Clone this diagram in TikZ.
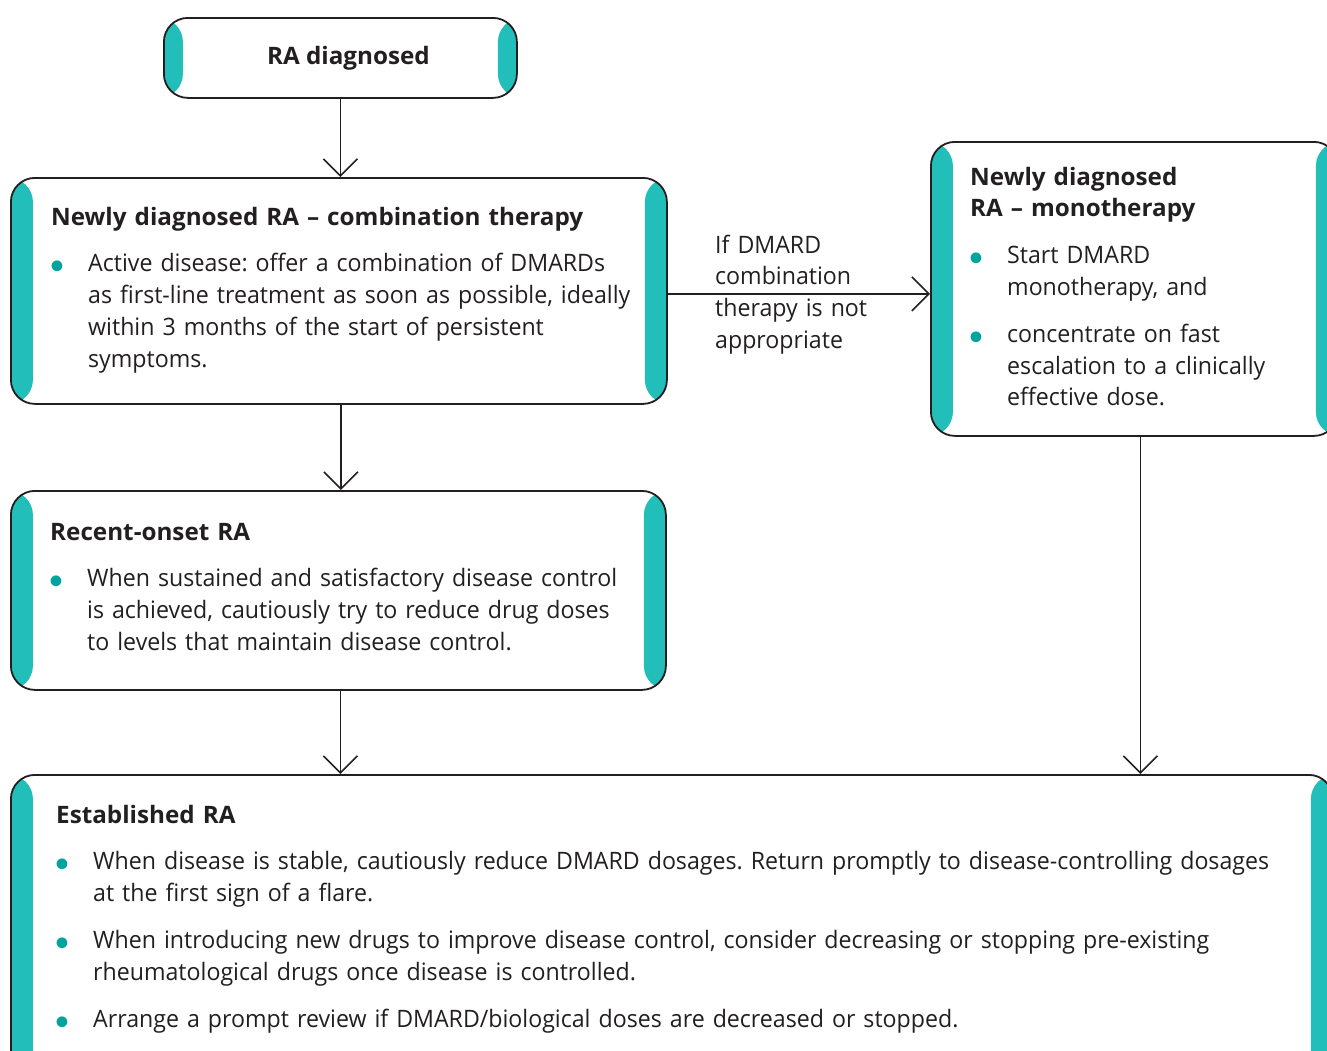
\documentclass[tikz,border=0pt]{standalone}
\usepackage{fontspec}
\setmainfont{Open Sans}[UprightFeatures={FakeStretch=0.965}, BoldFeatures={FakeStretch=1.01}]
\usepackage{pifont}
\usetikzlibrary{arrows.meta,positioning}

\definecolor{stripteal}{RGB}{33,190,186}
\definecolor{dotteal}{RGB}{0,163,158}
\definecolor{inkgray}{RGB}{35,31,32}

\frenchspacing
\newcommand{\boxhead}[1]{\textbf{#1}}
\newcommand{\bulgap}{\par\vspace{15pt}}
\newcommand{\bulitem}[1]{\par\hangindent=37pt\hangafter=1\noindent%
	\makebox[37pt][l]{\textcolor{dotteal}{\fontsize{15}{15}\selectfont\ding{108}}}#1\par}

\tikzset{
	box/.style={
		rectangle,
		draw = inkgray,
		line width = 1.8pt,
		rounded corners = 24pt,
		fill = white,
		anchor = north west,
		inner sep = 0pt,
		path picture={
			\fill[stripteal] (path picture bounding box.south west) rectangle ([xshift=#1]path picture bounding box.north west);
			\fill[stripteal] (path picture bounding box.south east) rectangle ([xshift=-#1]path picture bounding box.north east);
		}},
	box/.default = 22pt,
	boxtext/.style={
		anchor = base west,
		inner sep = 0pt,
		align = left,
		text = inkgray,
		font = \fontsize{24}{31.8}\selectfont},
	arr/.style={
		draw = inkgray,
		line width = 1.6pt,
		-{Straight Barb[length=17pt, width=34pt]}}
}

\begin{document}
\begin{tikzpicture}[x=1pt, y=-1pt]
			
			\clip (0,0) rectangle (1327,1050);
			
			\node[box = 19pt,
			text = inkgray,
			font = \fontsize{24}{31.8}\selectfont\bfseries,
			minimum width = 353pt, 
			minimum height = 80pt] (diag) at (163,17) {\hspace*{16pt}RA diagnosed};
			
			\node[box,
			minimum width = 656pt, 
			minimum height = 226pt] (comb) at (10,177) {};
			
			\node[box,
			minimum width = 655pt, 
			minimum height = 199pt] (recent) at (10,490) {};
			
			\node[box,
			minimum width = 407pt, 
			minimum height = 294pt] (mono) at (930,141) {};
			
			\node[box,
			minimum width = 1322pt, 
			minimum height = 310pt] (est) at (10,774) {};
			
			
			\node[boxtext, text width = 600pt] (combtext) at ([shift={(41,48)}]comb.north west) {%
				\boxhead{Newly diagnosed RA -- combination therapy}\bulgap
				\bulitem{Active disease: offer a combination of DMARDs\newline as first-line treatment as soon as possible, ideally\newline within 3 months of the start of persistent\newline symptoms.}};
			
			\node[boxtext, text width = 600pt] (recenttext) at ([shift={(40,50)}]recent.north west) {%
				\boxhead{Recent-onset RA}\bulgap
				\bulitem{When sustained and satisfactory disease control\newline is achieved, cautiously try to reduce drug doses\newline to levels that maintain disease control.}};
			
			\node[boxtext, text width = 340pt] (monotext) at ([shift={(40,44)}]mono.north west) {%
				\boxhead{Newly diagnosed\newline RA -- monotherapy}\bulgap
				\bulitem{Start DMARD\newline monotherapy, and}\bulgap
				\bulitem{concentrate on fast\newline escalation to a clinically\newline effective dose.}};
			
			\node[boxtext, text width = 1262pt] (esttext) at ([shift={(46,49)}]est.north west) {%
				\boxhead{Established RA}\bulgap
				\bulitem{When disease is stable, cautiously reduce DMARD dosages. Return promptly to disease-controlling dosages\newline at the first sign of a flare.}\bulgap
				\bulitem{When introducing new drugs to improve disease control, consider decreasing or stopping pre-existing\newline rheumatological drugs once disease is controlled.}\bulgap
				\bulitem{Arrange a prompt review if DMARD/biological doses are decreased or stopped.}};
			
			\node[boxtext, text width = 200pt] (ifnot) at (715,253) {If DMARD\\ combination\\ therapy is not\\ appropriate};
			
			
			\draw[arr] (diag.south) -- (diag.south |- comb.north);
			\draw[arr] ([xshift=2pt]comb.south) -- ([xshift=2pt]comb.south |- recent.north);
			\draw[arr] ([xshift=2pt]recent.south) -- ([xshift=2pt]recent.south |- est.north);
			\draw[arr] ([yshift=-3pt]comb.east) -- ([yshift=-3pt]comb.east -| mono.west);
			\draw[arr] ([xshift=6pt]mono.south) -- ([xshift=6pt]mono.south |- est.north);
			
		\end{tikzpicture}
\end{document}
